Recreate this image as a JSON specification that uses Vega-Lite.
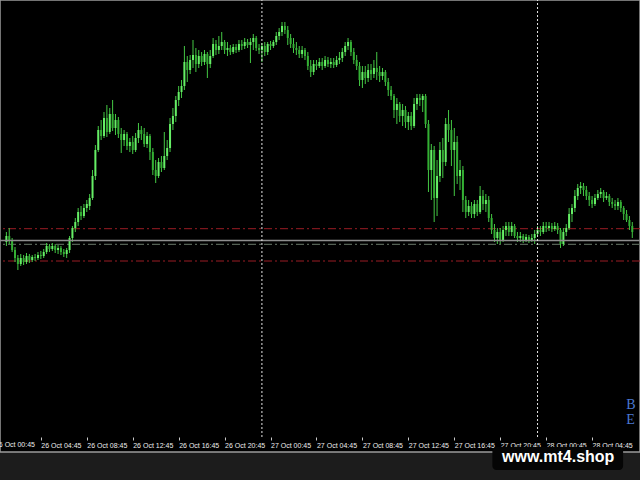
{
  "$schema": "https://vega.github.io/schema/vega-lite/v6.json",
  "width": 640,
  "height": 452,
  "autosize": {"type": "none"},
  "padding": {"left": 0, "top": 0, "right": 0, "bottom": 28},
  "background": "#1c1c1c",
  "config": {"view": {"fill": "#000000", "stroke": "#9a9a9a", "strokeWidth": 1.5}},
  "data": {"values": [
    {"t":"2022-10-26T01:45Z","o":195,"h":205,"l":191,"c":201},
    {"t":"2022-10-26T02:00Z","o":201,"h":209,"l":193,"c":197},
    {"t":"2022-10-26T02:15Z","o":197,"h":199,"l":185,"c":187},
    {"t":"2022-10-26T02:30Z","o":187,"h":190,"l":175,"c":179},
    {"t":"2022-10-26T02:45Z","o":179,"h":182,"l":167,"c":173},
    {"t":"2022-10-26T03:00Z","o":173,"h":183,"l":171,"c":179},
    {"t":"2022-10-26T03:15Z","o":179,"h":182,"l":172,"c":175},
    {"t":"2022-10-26T03:30Z","o":175,"h":184,"l":173,"c":181},
    {"t":"2022-10-26T03:45Z","o":181,"h":183,"l":174,"c":177},
    {"t":"2022-10-26T04:00Z","o":177,"h":182,"l":175,"c":180},
    {"t":"2022-10-26T04:15Z","o":180,"h":183,"l":176,"c":179},
    {"t":"2022-10-26T04:30Z","o":179,"h":185,"l":177,"c":182},
    {"t":"2022-10-26T04:45Z","o":182,"h":186,"l":178,"c":181},
    {"t":"2022-10-26T05:00Z","o":181,"h":188,"l":179,"c":185},
    {"t":"2022-10-26T05:15Z","o":185,"h":194,"l":183,"c":191},
    {"t":"2022-10-26T05:30Z","o":191,"h":193,"l":185,"c":188},
    {"t":"2022-10-26T05:45Z","o":188,"h":194,"l":186,"c":191},
    {"t":"2022-10-26T06:00Z","o":191,"h":193,"l":184,"c":187},
    {"t":"2022-10-26T06:15Z","o":187,"h":192,"l":183,"c":189},
    {"t":"2022-10-26T06:30Z","o":189,"h":191,"l":182,"c":185},
    {"t":"2022-10-26T06:45Z","o":185,"h":188,"l":180,"c":183},
    {"t":"2022-10-26T07:00Z","o":183,"h":189,"l":179,"c":187},
    {"t":"2022-10-26T07:15Z","o":187,"h":201,"l":184,"c":199},
    {"t":"2022-10-26T07:30Z","o":199,"h":211,"l":195,"c":209},
    {"t":"2022-10-26T07:45Z","o":209,"h":219,"l":205,"c":215},
    {"t":"2022-10-26T08:00Z","o":215,"h":229,"l":211,"c":225},
    {"t":"2022-10-26T08:15Z","o":225,"h":231,"l":217,"c":221},
    {"t":"2022-10-26T08:30Z","o":221,"h":233,"l":219,"c":229},
    {"t":"2022-10-26T08:45Z","o":229,"h":237,"l":225,"c":233},
    {"t":"2022-10-26T09:00Z","o":231,"h":243,"l":227,"c":239},
    {"t":"2022-10-26T09:15Z","o":239,"h":267,"l":237,"c":261},
    {"t":"2022-10-26T09:30Z","o":261,"h":292,"l":257,"c":287},
    {"t":"2022-10-26T09:45Z","o":287,"h":311,"l":285,"c":307},
    {"t":"2022-10-26T10:00Z","o":307,"h":317,"l":297,"c":301},
    {"t":"2022-10-26T10:15Z","o":301,"h":325,"l":299,"c":319},
    {"t":"2022-10-26T10:30Z","o":319,"h":332,"l":300,"c":305},
    {"t":"2022-10-26T10:45Z","o":305,"h":329,"l":303,"c":323},
    {"t":"2022-10-26T11:00Z","o":323,"h":337,"l":306,"c":309},
    {"t":"2022-10-26T11:15Z","o":309,"h":323,"l":302,"c":317},
    {"t":"2022-10-26T11:30Z","o":317,"h":320,"l":299,"c":303},
    {"t":"2022-10-26T11:45Z","o":303,"h":309,"l":284,"c":297},
    {"t":"2022-10-26T12:00Z","o":297,"h":307,"l":291,"c":303},
    {"t":"2022-10-26T12:15Z","o":303,"h":305,"l":287,"c":291},
    {"t":"2022-10-26T12:30Z","o":291,"h":299,"l":285,"c":295},
    {"t":"2022-10-26T12:45Z","o":295,"h":301,"l":283,"c":287},
    {"t":"2022-10-26T13:00Z","o":287,"h":304,"l":285,"c":299},
    {"t":"2022-10-26T13:15Z","o":299,"h":314,"l":294,"c":307},
    {"t":"2022-10-26T13:30Z","o":307,"h":311,"l":297,"c":303},
    {"t":"2022-10-26T13:45Z","o":303,"h":309,"l":290,"c":293},
    {"t":"2022-10-26T14:00Z","o":293,"h":305,"l":289,"c":301},
    {"t":"2022-10-26T14:15Z","o":301,"h":303,"l":277,"c":285},
    {"t":"2022-10-26T14:30Z","o":285,"h":289,"l":262,"c":267},
    {"t":"2022-10-26T14:45Z","o":267,"h":277,"l":254,"c":261},
    {"t":"2022-10-26T15:00Z","o":261,"h":279,"l":259,"c":275},
    {"t":"2022-10-26T15:15Z","o":275,"h":281,"l":265,"c":269},
    {"t":"2022-10-26T15:30Z","o":269,"h":305,"l":267,"c":281},
    {"t":"2022-10-26T15:45Z","o":281,"h":297,"l":277,"c":289},
    {"t":"2022-10-26T16:00Z","o":289,"h":319,"l":285,"c":313},
    {"t":"2022-10-26T16:15Z","o":313,"h":329,"l":307,"c":321},
    {"t":"2022-10-26T16:30Z","o":321,"h":341,"l":315,"c":337},
    {"t":"2022-10-26T16:45Z","o":337,"h":351,"l":331,"c":345},
    {"t":"2022-10-26T17:00Z","o":345,"h":357,"l":339,"c":351},
    {"t":"2022-10-26T17:15Z","o":351,"h":391,"l":347,"c":375},
    {"t":"2022-10-26T17:30Z","o":375,"h":381,"l":355,"c":367},
    {"t":"2022-10-26T17:45Z","o":367,"h":382,"l":363,"c":377},
    {"t":"2022-10-26T18:00Z","o":377,"h":397,"l":369,"c":382},
    {"t":"2022-10-26T18:15Z","o":382,"h":389,"l":365,"c":373},
    {"t":"2022-10-26T18:30Z","o":373,"h":387,"l":369,"c":381},
    {"t":"2022-10-26T18:45Z","o":381,"h":385,"l":371,"c":375},
    {"t":"2022-10-26T19:00Z","o":375,"h":387,"l":372,"c":383},
    {"t":"2022-10-26T19:15Z","o":383,"h":385,"l":359,"c":373},
    {"t":"2022-10-26T19:30Z","o":373,"h":387,"l":369,"c":381},
    {"t":"2022-10-26T19:45Z","o":381,"h":399,"l":379,"c":393},
    {"t":"2022-10-26T20:00Z","o":393,"h":397,"l":382,"c":387},
    {"t":"2022-10-26T20:15Z","o":387,"h":401,"l":383,"c":391},
    {"t":"2022-10-26T20:30Z","o":391,"h":405,"l":387,"c":395},
    {"t":"2022-10-26T20:45Z","o":395,"h":397,"l":383,"c":387},
    {"t":"2022-10-26T21:00Z","o":387,"h":395,"l":381,"c":389},
    {"t":"2022-10-26T21:15Z","o":389,"h":392,"l":382,"c":385},
    {"t":"2022-10-26T21:30Z","o":385,"h":393,"l":383,"c":390},
    {"t":"2022-10-26T21:45Z","o":390,"h":393,"l":384,"c":387},
    {"t":"2022-10-26T22:00Z","o":387,"h":397,"l":385,"c":393},
    {"t":"2022-10-26T22:15Z","o":393,"h":397,"l":387,"c":391},
    {"t":"2022-10-26T22:30Z","o":391,"h":399,"l":388,"c":395},
    {"t":"2022-10-26T22:45Z","o":395,"h":398,"l":389,"c":392},
    {"t":"2022-10-26T23:00Z","o":392,"h":399,"l":374,"c":395},
    {"t":"2022-10-26T23:15Z","o":395,"h":403,"l":387,"c":399},
    {"t":"2022-10-26T23:30Z","o":399,"h":401,"l":386,"c":389},
    {"t":"2022-10-26T23:45Z","o":389,"h":393,"l":383,"c":387},
    {"t":"2022-10-27T00:00Z","o":387,"h":394,"l":375,"c":391},
    {"t":"2022-10-27T00:15Z","o":391,"h":395,"l":381,"c":385},
    {"t":"2022-10-27T00:30Z","o":385,"h":395,"l":382,"c":393},
    {"t":"2022-10-27T00:45Z","o":393,"h":396,"l":387,"c":391},
    {"t":"2022-10-27T01:00Z","o":391,"h":397,"l":389,"c":395},
    {"t":"2022-10-27T01:15Z","o":395,"h":405,"l":392,"c":401},
    {"t":"2022-10-27T01:30Z","o":401,"h":409,"l":397,"c":405},
    {"t":"2022-10-27T01:45Z","o":405,"h":415,"l":401,"c":411},
    {"t":"2022-10-27T02:00Z","o":411,"h":415,"l":403,"c":407},
    {"t":"2022-10-27T02:15Z","o":407,"h":411,"l":392,"c":399},
    {"t":"2022-10-27T02:30Z","o":399,"h":403,"l":389,"c":393},
    {"t":"2022-10-27T02:45Z","o":393,"h":399,"l":384,"c":389},
    {"t":"2022-10-27T03:00Z","o":389,"h":395,"l":382,"c":387},
    {"t":"2022-10-27T03:15Z","o":387,"h":391,"l":379,"c":383},
    {"t":"2022-10-27T03:30Z","o":383,"h":391,"l":379,"c":387},
    {"t":"2022-10-27T03:45Z","o":387,"h":389,"l":377,"c":381},
    {"t":"2022-10-27T04:00Z","o":381,"h":385,"l":367,"c":371},
    {"t":"2022-10-27T04:15Z","o":371,"h":377,"l":360,"c":365},
    {"t":"2022-10-27T04:30Z","o":365,"h":377,"l":362,"c":373},
    {"t":"2022-10-27T04:45Z","o":373,"h":377,"l":367,"c":371},
    {"t":"2022-10-27T05:00Z","o":371,"h":379,"l":369,"c":375},
    {"t":"2022-10-27T05:15Z","o":375,"h":379,"l":367,"c":371},
    {"t":"2022-10-27T05:30Z","o":371,"h":381,"l":369,"c":377},
    {"t":"2022-10-27T05:45Z","o":377,"h":380,"l":370,"c":373},
    {"t":"2022-10-27T06:00Z","o":373,"h":379,"l":369,"c":375},
    {"t":"2022-10-27T06:15Z","o":375,"h":379,"l":369,"c":372},
    {"t":"2022-10-27T06:30Z","o":372,"h":381,"l":370,"c":377},
    {"t":"2022-10-27T06:45Z","o":377,"h":385,"l":373,"c":379},
    {"t":"2022-10-27T07:00Z","o":379,"h":389,"l":375,"c":385},
    {"t":"2022-10-27T07:15Z","o":385,"h":395,"l":381,"c":391},
    {"t":"2022-10-27T07:30Z","o":391,"h":399,"l":387,"c":395},
    {"t":"2022-10-27T07:45Z","o":395,"h":397,"l":381,"c":385},
    {"t":"2022-10-27T08:00Z","o":385,"h":389,"l":373,"c":377},
    {"t":"2022-10-27T08:15Z","o":377,"h":382,"l":367,"c":371},
    {"t":"2022-10-27T08:30Z","o":371,"h":375,"l":351,"c":357},
    {"t":"2022-10-27T08:45Z","o":357,"h":371,"l":349,"c":365},
    {"t":"2022-10-27T09:00Z","o":365,"h":371,"l":353,"c":359},
    {"t":"2022-10-27T09:15Z","o":359,"h":373,"l":355,"c":367},
    {"t":"2022-10-27T09:30Z","o":367,"h":373,"l":357,"c":363},
    {"t":"2022-10-27T09:45Z","o":363,"h":377,"l":359,"c":369},
    {"t":"2022-10-27T10:00Z","o":369,"h":385,"l":357,"c":365},
    {"t":"2022-10-27T10:15Z","o":365,"h":371,"l":355,"c":361},
    {"t":"2022-10-27T10:30Z","o":361,"h":369,"l":357,"c":365},
    {"t":"2022-10-27T10:45Z","o":365,"h":367,"l":351,"c":355},
    {"t":"2022-10-27T11:00Z","o":355,"h":359,"l":341,"c":347},
    {"t":"2022-10-27T11:15Z","o":347,"h":351,"l":337,"c":341},
    {"t":"2022-10-27T11:30Z","o":341,"h":343,"l":319,"c":327},
    {"t":"2022-10-27T11:45Z","o":327,"h":339,"l":313,"c":333},
    {"t":"2022-10-27T12:00Z","o":333,"h":335,"l":315,"c":321},
    {"t":"2022-10-27T12:15Z","o":321,"h":333,"l":311,"c":327},
    {"t":"2022-10-27T12:30Z","o":327,"h":331,"l":309,"c":315},
    {"t":"2022-10-27T12:45Z","o":315,"h":325,"l":307,"c":321},
    {"t":"2022-10-27T13:00Z","o":321,"h":325,"l":307,"c":311},
    {"t":"2022-10-27T13:15Z","o":311,"h":339,"l":309,"c":333},
    {"t":"2022-10-27T13:30Z","o":333,"h":343,"l":327,"c":339},
    {"t":"2022-10-27T13:45Z","o":339,"h":343,"l":331,"c":337},
    {"t":"2022-10-27T14:00Z","o":337,"h":343,"l":325,"c":341},
    {"t":"2022-10-27T14:15Z","o":341,"h":343,"l":309,"c":313},
    {"t":"2022-10-27T14:30Z","o":313,"h":317,"l":245,"c":267},
    {"t":"2022-10-27T14:45Z","o":267,"h":293,"l":237,"c":287},
    {"t":"2022-10-27T15:00Z","o":287,"h":291,"l":215,"c":239},
    {"t":"2022-10-27T15:15Z","o":239,"h":277,"l":221,"c":261},
    {"t":"2022-10-27T15:30Z","o":261,"h":295,"l":255,"c":287},
    {"t":"2022-10-27T15:45Z","o":287,"h":299,"l":259,"c":275},
    {"t":"2022-10-27T16:00Z","o":275,"h":319,"l":271,"c":313},
    {"t":"2022-10-27T16:15Z","o":313,"h":327,"l":295,"c":307},
    {"t":"2022-10-27T16:30Z","o":307,"h":317,"l":271,"c":287},
    {"t":"2022-10-27T16:45Z","o":287,"h":309,"l":241,"c":295},
    {"t":"2022-10-27T17:00Z","o":295,"h":301,"l":253,"c":261},
    {"t":"2022-10-27T17:15Z","o":261,"h":277,"l":247,"c":267},
    {"t":"2022-10-27T17:30Z","o":267,"h":271,"l":225,"c":237},
    {"t":"2022-10-27T17:45Z","o":237,"h":241,"l":219,"c":225},
    {"t":"2022-10-27T18:00Z","o":225,"h":237,"l":221,"c":231},
    {"t":"2022-10-27T18:15Z","o":231,"h":235,"l":219,"c":223},
    {"t":"2022-10-27T18:30Z","o":223,"h":237,"l":219,"c":233},
    {"t":"2022-10-27T18:45Z","o":233,"h":237,"l":221,"c":225},
    {"t":"2022-10-27T19:00Z","o":225,"h":251,"l":223,"c":241},
    {"t":"2022-10-27T19:15Z","o":241,"h":247,"l":227,"c":233},
    {"t":"2022-10-27T19:30Z","o":233,"h":243,"l":225,"c":237},
    {"t":"2022-10-27T19:45Z","o":237,"h":241,"l":215,"c":219},
    {"t":"2022-10-27T20:00Z","o":219,"h":223,"l":203,"c":207},
    {"t":"2022-10-27T20:15Z","o":207,"h":213,"l":195,"c":199},
    {"t":"2022-10-27T20:30Z","o":199,"h":209,"l":193,"c":205},
    {"t":"2022-10-27T20:45Z","o":205,"h":209,"l":193,"c":197},
    {"t":"2022-10-27T21:00Z","o":197,"h":211,"l":195,"c":207},
    {"t":"2022-10-27T21:15Z","o":207,"h":215,"l":201,"c":211},
    {"t":"2022-10-27T21:30Z","o":211,"h":215,"l":201,"c":205},
    {"t":"2022-10-27T21:45Z","o":205,"h":215,"l":201,"c":211},
    {"t":"2022-10-27T22:00Z","o":211,"h":213,"l":199,"c":201},
    {"t":"2022-10-27T22:15Z","o":201,"h":205,"l":195,"c":199},
    {"t":"2022-10-27T22:30Z","o":199,"h":205,"l":195,"c":201},
    {"t":"2022-10-27T22:45Z","o":201,"h":203,"l":194,"c":197},
    {"t":"2022-10-27T23:00Z","o":197,"h":203,"l":195,"c":200},
    {"t":"2022-10-27T23:15Z","o":200,"h":202,"l":194,"c":197},
    {"t":"2022-10-27T23:30Z","o":197,"h":203,"l":195,"c":199},
    {"t":"2022-10-27T23:45Z","o":199,"h":207,"l":193,"c":203},
    {"t":"2022-10-28T00:00Z","o":203,"h":211,"l":201,"c":207},
    {"t":"2022-10-28T00:15Z","o":207,"h":211,"l":201,"c":205},
    {"t":"2022-10-28T00:30Z","o":205,"h":215,"l":203,"c":211},
    {"t":"2022-10-28T00:45Z","o":211,"h":215,"l":205,"c":209},
    {"t":"2022-10-28T01:00Z","o":209,"h":215,"l":206,"c":211},
    {"t":"2022-10-28T01:15Z","o":211,"h":214,"l":205,"c":208},
    {"t":"2022-10-28T01:30Z","o":208,"h":215,"l":206,"c":211},
    {"t":"2022-10-28T01:45Z","o":211,"h":214,"l":203,"c":207},
    {"t":"2022-10-28T02:00Z","o":207,"h":209,"l":189,"c":193},
    {"t":"2022-10-28T02:15Z","o":193,"h":209,"l":191,"c":205},
    {"t":"2022-10-28T02:30Z","o":205,"h":213,"l":201,"c":209},
    {"t":"2022-10-28T02:45Z","o":209,"h":229,"l":207,"c":223},
    {"t":"2022-10-28T03:00Z","o":223,"h":233,"l":215,"c":229},
    {"t":"2022-10-28T03:15Z","o":229,"h":247,"l":225,"c":241},
    {"t":"2022-10-28T03:30Z","o":241,"h":253,"l":237,"c":249},
    {"t":"2022-10-28T03:45Z","o":249,"h":255,"l":243,"c":251},
    {"t":"2022-10-28T04:00Z","o":251,"h":254,"l":241,"c":247},
    {"t":"2022-10-28T04:15Z","o":247,"h":251,"l":237,"c":241},
    {"t":"2022-10-28T04:30Z","o":241,"h":245,"l":231,"c":237},
    {"t":"2022-10-28T04:45Z","o":237,"h":241,"l":229,"c":233},
    {"t":"2022-10-28T05:00Z","o":233,"h":243,"l":231,"c":239},
    {"t":"2022-10-28T05:15Z","o":239,"h":247,"l":237,"c":243},
    {"t":"2022-10-28T05:30Z","o":243,"h":249,"l":239,"c":245},
    {"t":"2022-10-28T05:45Z","o":245,"h":247,"l":235,"c":239},
    {"t":"2022-10-28T06:00Z","o":239,"h":245,"l":237,"c":241},
    {"t":"2022-10-28T06:15Z","o":241,"h":243,"l":231,"c":235},
    {"t":"2022-10-28T06:30Z","o":235,"h":239,"l":229,"c":233},
    {"t":"2022-10-28T06:45Z","o":233,"h":237,"l":227,"c":231},
    {"t":"2022-10-28T07:00Z","o":231,"h":239,"l":227,"c":235},
    {"t":"2022-10-28T07:15Z","o":235,"h":237,"l":225,"c":229},
    {"t":"2022-10-28T07:30Z","o":229,"h":231,"l":217,"c":223},
    {"t":"2022-10-28T07:45Z","o":223,"h":227,"l":215,"c":217},
    {"t":"2022-10-28T08:00Z","o":217,"h":221,"l":207,"c":211},
    {"t":"2022-10-28T08:15Z","o":211,"h":215,"l":199,"c":205}
  ]},
  "layer": [
    {
      "data": {"values": [{"p": 208.3}, {"p": 176}]},
      "mark": {"type": "rule", "color": "#9a1c24", "strokeWidth": 1, "strokeDash": [8, 3, 2, 3]},
      "encoding": {"y": {"field": "p", "type": "quantitative", "scale": {"domain": [-15, 437], "nice": false, "zero": false}, "axis": null}}
    },
    {
      "data": {"values": [{"p": 192.7}]},
      "mark": {"type": "rule", "color": "#6a7a6a", "strokeWidth": 1, "strokeDash": [8, 3, 2, 3]},
      "encoding": {"y": {"field": "p", "type": "quantitative", "scale": {"domain": [-15, 437], "nice": false, "zero": false}, "axis": null}}
    },
    {
      "mark": {"type": "rule", "color": "#44c844", "strokeWidth": 1},
      "encoding": {
        "x": {"field": "t", "type": "temporal",
          "scale": {"type": "utc", "domain": [{"year": 2022, "month": 10, "date": 26, "hours": 1, "minutes": 37, "seconds": 43, "utc": true}, {"year": 2022, "month": 10, "date": 28, "hours": 8, "minutes": 29, "seconds": 9, "utc": true}]},
          "axis": {
            "orient": "bottom", "offset": -15, "domain": false, "grid": false, "title": null,
            "format": "%d %b %H:%M",
            "values": [
              {"year": 2022, "month": 10, "date": 26, "hours": 4, "minutes": 45, "utc": true},
              {"year": 2022, "month": 10, "date": 26, "hours": 8, "minutes": 45, "utc": true},
              {"year": 2022, "month": 10, "date": 26, "hours": 12, "minutes": 45, "utc": true},
              {"year": 2022, "month": 10, "date": 26, "hours": 16, "minutes": 45, "utc": true},
              {"year": 2022, "month": 10, "date": 26, "hours": 20, "minutes": 45, "utc": true},
              {"year": 2022, "month": 10, "date": 27, "hours": 0, "minutes": 45, "utc": true},
              {"year": 2022, "month": 10, "date": 27, "hours": 4, "minutes": 45, "utc": true},
              {"year": 2022, "month": 10, "date": 27, "hours": 8, "minutes": 45, "utc": true},
              {"year": 2022, "month": 10, "date": 27, "hours": 12, "minutes": 45, "utc": true},
              {"year": 2022, "month": 10, "date": 27, "hours": 16, "minutes": 45, "utc": true},
              {"year": 2022, "month": 10, "date": 27, "hours": 20, "minutes": 45, "utc": true},
              {"year": 2022, "month": 10, "date": 28, "hours": 0, "minutes": 45, "utc": true},
              {"year": 2022, "month": 10, "date": 28, "hours": 4, "minutes": 45, "utc": true}
            ],
            "labelAlign": "left", "labelDx": 0, "labelFont": "Liberation Sans", "labelFontSize": 7,
            "labelColor": "#ececec", "labelPadding": 1, "labelOverlap": false, "labelBound": false, "labelFlush": false,
            "ticks": true, "tickColor": "#c8c8c8", "tickSize": 3, "tickWidth": 1
          }
        },
        "y": {"field": "l", "type": "quantitative", "scale": {"domain": [-15, 437], "nice": false, "zero": false}, "axis": null},
        "y2": {"field": "h"}
      }
    },
    {
      "mark": {"type": "bar", "size": 2},
      "encoding": {
        "x": {"field": "t", "type": "temporal",
          "scale": {"type": "utc", "domain": [{"year": 2022, "month": 10, "date": 26, "hours": 1, "minutes": 37, "seconds": 43, "utc": true}, {"year": 2022, "month": 10, "date": 28, "hours": 8, "minutes": 29, "seconds": 9, "utc": true}]}},
        "y": {"field": "o", "type": "quantitative", "scale": {"domain": [-15, 437], "nice": false, "zero": false}, "axis": null},
        "y2": {"field": "c"},
        "color": {"condition": {"test": "datum.c >= datum.o", "value": "#66ee66"}, "value": "#34b034"}
      }
    },
    {
      "data": {"values": [{"p": 196.5}]},
      "mark": {"type": "rule", "color": "#8e8e8e", "strokeWidth": 1.5},
      "encoding": {"y": {"field": "p", "type": "quantitative", "scale": {"domain": [-15, 437], "nice": false, "zero": false}, "axis": null}}
    },
    {
      "data": {"values": [{"d": "2022-10-27T00:00Z"}, {"d": "2022-10-28T00:00Z"}]},
      "mark": {"type": "rule", "color": "#e6e6e6", "strokeWidth": 1, "strokeDash": [2, 2]},
      "encoding": {
        "x": {"field": "d", "type": "temporal",
          "scale": {"type": "utc", "domain": [{"year": 2022, "month": 10, "date": 26, "hours": 1, "minutes": 37, "seconds": 43, "utc": true}, {"year": 2022, "month": 10, "date": 28, "hours": 8, "minutes": 29, "seconds": 9, "utc": true}]}},
        "y": {"datum": 0, "type": "quantitative", "scale": {"domain": [-15, 437], "nice": false, "zero": false}, "axis": null},
        "y2": {"datum": 437}
      }
    },
    {
      "data": {"values": [{"d": "2022-10-26T00:45Z", "p": -4, "txt": "26 Oct 00:45"}]},
      "mark": {"type": "text", "color": "#ececec", "font": "Liberation Sans", "fontSize": 7, "align": "left", "baseline": "top"},
      "encoding": {
        "x": {"field": "d", "type": "temporal",
          "scale": {"type": "utc", "domain": [{"year": 2022, "month": 10, "date": 26, "hours": 1, "minutes": 37, "seconds": 43, "utc": true}, {"year": 2022, "month": 10, "date": 28, "hours": 8, "minutes": 29, "seconds": 9, "utc": true}]}},
        "y": {"field": "p", "type": "quantitative", "scale": {"domain": [-15, 437], "nice": false, "zero": false}, "axis": null},
        "text": {"field": "txt"}
      }
    },
    {
      "data": {"values": [{"a": "2022-10-27T20:04Z", "b": "2022-10-28T07:27Z", "top": -10, "bot": -33}]},
      "mark": {"type": "rect", "color": "#050505", "cornerRadius": 4},
      "encoding": {
        "x": {"field": "a", "type": "temporal",
          "scale": {"type": "utc", "domain": [{"year": 2022, "month": 10, "date": 26, "hours": 1, "minutes": 37, "seconds": 43, "utc": true}, {"year": 2022, "month": 10, "date": 28, "hours": 8, "minutes": 29, "seconds": 9, "utc": true}]}},
        "x2": {"field": "b"},
        "y": {"field": "top", "type": "quantitative", "scale": {"domain": [-15, 437], "nice": false, "zero": false}, "axis": null},
        "y2": {"field": "bot"}
      }
    },
    {
      "data": {"values": [{"d": "2022-10-28T01:48Z", "p": -20, "txt": "www.mt4.shop"}]},
      "mark": {"type": "text", "color": "#ffffff", "font": "Liberation Sans", "fontWeight": "bold", "fontSize": 16, "align": "center", "baseline": "middle"},
      "encoding": {
        "x": {"field": "d", "type": "temporal",
          "scale": {"type": "utc", "domain": [{"year": 2022, "month": 10, "date": 26, "hours": 1, "minutes": 37, "seconds": 43, "utc": true}, {"year": 2022, "month": 10, "date": 28, "hours": 8, "minutes": 29, "seconds": 9, "utc": true}]}},
        "y": {"field": "p", "type": "quantitative", "scale": {"domain": [-15, 437], "nice": false, "zero": false}, "axis": null},
        "text": {"field": "txt"}
      }
    },
    {
      "data": {"values": [{"d": "2022-10-28T07:43Z", "p": 32, "txt": "B"}, {"d": "2022-10-28T07:43Z", "p": 17, "txt": "E"}]},
      "mark": {"type": "text", "color": "#4a78d0", "font": "Liberation Serif", "fontSize": 14, "align": "left", "baseline": "middle"},
      "encoding": {
        "x": {"field": "d", "type": "temporal",
          "scale": {"type": "utc", "domain": [{"year": 2022, "month": 10, "date": 26, "hours": 1, "minutes": 37, "seconds": 43, "utc": true}, {"year": 2022, "month": 10, "date": 28, "hours": 8, "minutes": 29, "seconds": 9, "utc": true}]}},
        "y": {"field": "p", "type": "quantitative", "scale": {"domain": [-15, 437], "nice": false, "zero": false}, "axis": null},
        "text": {"field": "txt"}
      }
    }
  ]
}
